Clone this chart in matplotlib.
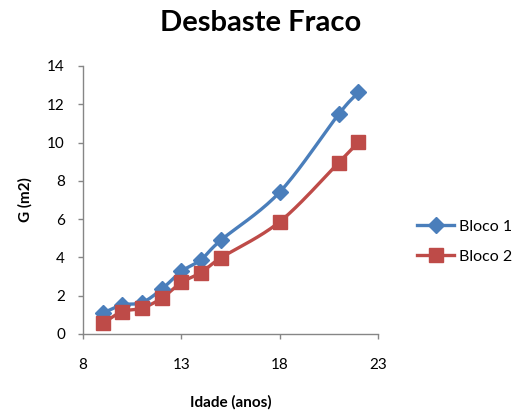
import numpy as np
import matplotlib
matplotlib.use("Agg")
import matplotlib.pyplot as plt
from matplotlib.lines import Line2D

plt.rcParams['font.family'] = ['Lato', 'DejaVu Sans']

idade = [9, 10, 11, 12, 13, 14, 15, 18, 21, 22]
bloco1 = [1.09, 1.52, 1.64, 2.34, 3.27, 3.88, 4.89, 7.41, 11.48, 12.62]
bloco2 = [0.56, 1.17, 1.35, 1.87, 2.69, 3.21, 3.97, 5.86, 8.95, 10.03]
series_names = ["Bloco 1", "Bloco 2"]
x_ticks = [8, 13, 18, 23]
y_ticks = [0, 2, 4, 6, 8, 10, 12, 14]


def smooth(x, y, n=20):
    # Catmull-Rom curve through the points, like a spreadsheet "smoothed line"
    x = np.asarray(x, float)
    y = np.asarray(y, float)
    px = np.concatenate([[2 * x[0] - x[1]], x, [2 * x[-1] - x[-2]]])
    py = np.concatenate([[2 * y[0] - y[1]], y, [2 * y[-1] - y[-2]]])
    xs, ys = [], []
    t = np.linspace(0, 1, n, endpoint=False)
    for i in range(1, len(px) - 2):
        p0, p1, p2, p3 = (np.array([px[j], py[j]]) for j in (i - 1, i, i + 1, i + 2))
        tt = t[:, None]
        pts = 0.5 * ((2 * p1) + (-p0 + p2) * tt + (2 * p0 - 5 * p1 + 4 * p2 - p3) * tt ** 2
                     + (-p0 + 3 * p1 - 3 * p2 + p3) * tt ** 3)
        xs.extend(pts[:, 0])
        ys.extend(pts[:, 1])
    xs.append(x[-1])
    ys.append(y[-1])
    return np.array(xs), np.array(ys)


fig = plt.figure(figsize=(5.23, 4.19), dpi=100)
ax = fig.add_axes([0.1587, 0.2029, 0.5641, 0.6396])

blue = "#4A7EBB"
red = "#BE4B48"

sx, sy = smooth(idade, bloco1)
ax.plot(sx, sy, color=blue, lw=2.4, solid_capstyle='round', zorder=3)
ax.plot(idade, bloco1, ls='none', marker='D', ms=8.5, color=blue, mec=blue, zorder=4)

sx, sy = smooth(idade, bloco2)
ax.plot(sx, sy, color=red, lw=2.4, solid_capstyle='round', zorder=3)
ax.plot(idade, bloco2, ls='none', marker='s', ms=10, color=red, mec=red, zorder=4)

ax.set_xlim(8, 23)
ax.set_ylim(0, 14)
ax.set_xticks(x_ticks)
ax.set_yticks(y_ticks)
for s in ('top', 'right'):
    ax.spines[s].set_visible(False)
for s in ('left', 'bottom'):
    ax.spines[s].set_color('#868686')
    ax.spines[s].set_linewidth(1.0)
ax.tick_params(axis='both', colors='#868686', labelcolor='black', labelsize=11,
               length=3.6, width=1.0, direction='out')
ax.tick_params(axis='y', pad=9.4)
ax.tick_params(axis='x', pad=13.5)

ax.set_xlabel("Idade (anos)", fontsize=11, fontweight='bold', labelpad=17)
ax.set_ylabel("G (m2)", fontsize=11, fontweight='bold', labelpad=10.5)

fig.text(0.499, 0.944, "Desbaste Fraco", ha='center', va='center',
         fontsize=21, fontweight='bold')

handles = [Line2D([], [], color=blue, lw=2.4, marker='D', ms=8.5),
           Line2D([], [], color=red, lw=2.4, marker='s', ms=10)]
fig.legend(handles, series_names, loc='center left', bbox_to_anchor=(0.797, 0.4236),
           frameon=False, fontsize=11.5, handlelength=2.35, handletextpad=0.3,
           labelspacing=1.0, borderpad=0, borderaxespad=0)

fig.savefig("out.png", dpi=100)
